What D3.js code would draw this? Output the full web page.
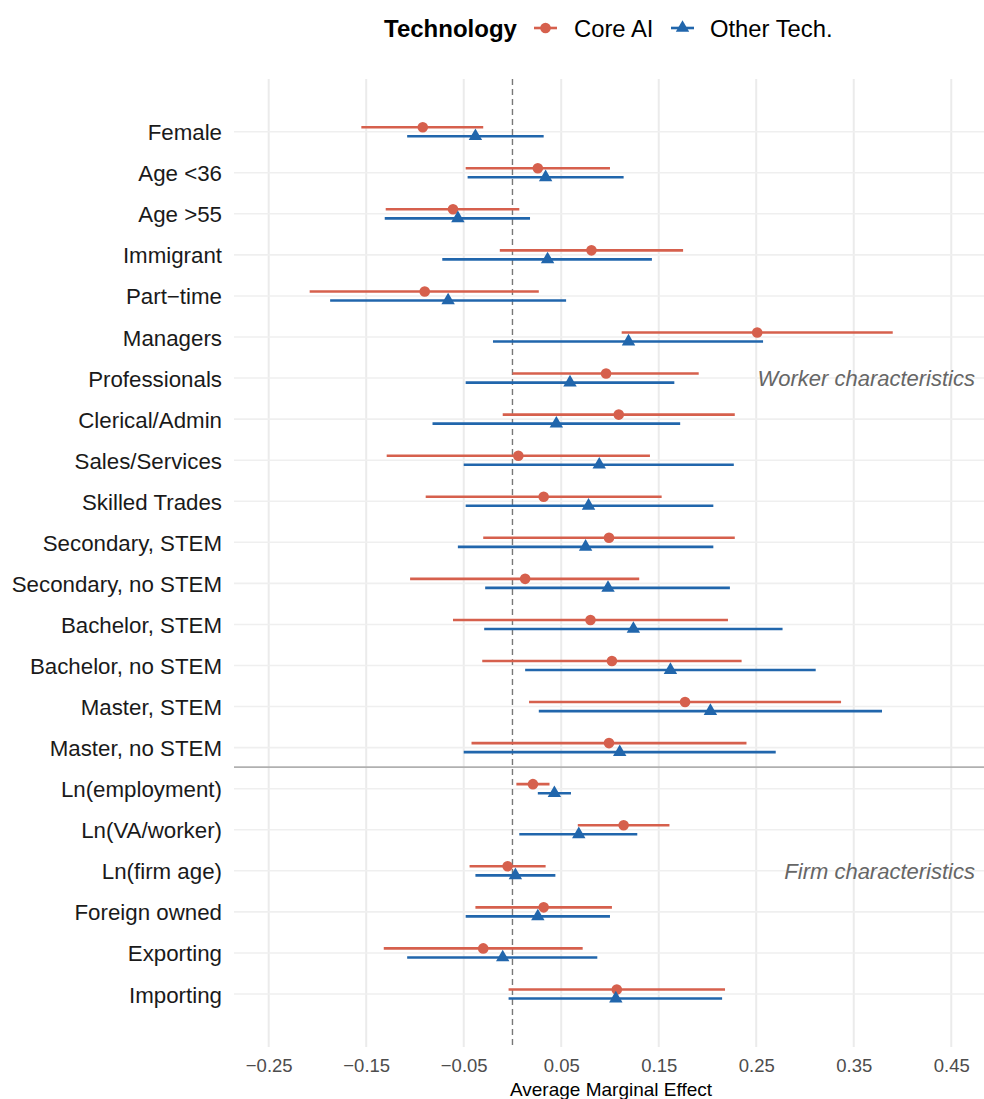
<!DOCTYPE html>
<html>
<head>
<meta charset="utf-8">
<script src="https://cdn.jsdelivr.net/npm/d3@7"></script>
<style>
  html, body { margin: 0; padding: 0; background: #ffffff; }
  svg { display: block; font-family: "Liberation Sans", Arial, Helvetica, sans-serif; }
</style>
</head>
<body>
<svg id="chart" width="984" height="1099"></svg>
<script>
// ---------------- data ----------------
const categories = [
  "Female", "Age <36", "Age >55", "Immigrant", "Part\u2212time", "Managers",
  "Professionals", "Clerical/Admin", "Sales/Services", "Skilled Trades",
  "Secondary, STEM", "Secondary, no STEM", "Bachelor, STEM", "Bachelor, no STEM",
  "Master, STEM", "Master, no STEM",
  "Ln(employment)", "Ln(VA/worker)", "Ln(firm age)", "Foreign owned", "Exporting", "Importing"
];
const seriesNames = ["Core AI", "Other Tech."];

const coreEst = [-0.092, 0.026, -0.061, 0.081, -0.090, 0.251, 0.096, 0.109, 0.006, 0.032,
                 0.099, 0.013, 0.080, 0.102, 0.177, 0.099,
                 0.021, 0.114, -0.005, 0.032, -0.030, 0.107];
const coreLo  = [-0.155, -0.048, -0.130, -0.013, -0.208, 0.112, 0.000, -0.010, -0.129, -0.089,
                 -0.030, -0.105, -0.061, -0.031, 0.017, -0.042,
                 0.004, 0.067, -0.044, -0.038, -0.132, -0.004];
const coreHi  = [-0.030, 0.100, 0.007, 0.175, 0.027, 0.390, 0.191, 0.228, 0.141, 0.153,
                 0.228, 0.130, 0.221, 0.235, 0.337, 0.240,
                 0.038, 0.161, 0.034, 0.102, 0.072, 0.218];

const otherEst = [-0.038, 0.034, -0.056, 0.036, -0.066, 0.119, 0.059, 0.045, 0.089, 0.078,
                  0.075, 0.098, 0.124, 0.162, 0.203, 0.110,
                  0.043, 0.068, 0.003, 0.026, -0.010, 0.106];
const otherLo  = [-0.108, -0.046, -0.131, -0.072, -0.187, -0.020, -0.048, -0.082, -0.050, -0.048,
                  -0.056, -0.028, -0.029, 0.013, 0.027, -0.050,
                  0.026, 0.007, -0.038, -0.048, -0.108, -0.004];
const otherHi  = [0.032, 0.114, 0.018, 0.143, 0.055, 0.257, 0.166, 0.172, 0.227, 0.206,
                  0.206, 0.223, 0.277, 0.311, 0.379, 0.270,
                  0.060, 0.128, 0.044, 0.100, 0.087, 0.215];

const xTicks = [-0.25, -0.15, -0.05, 0.05, 0.15, 0.25, 0.35, 0.45];
const groupLabels = [
  { text: "Worker characteristics", row: "Professionals" },
  { text: "Firm characteristics", row: "Ln(firm age)" }
];
const groupBreakAfter = "Master, no STEM";

// ---------------- layout ----------------
const colors = { "Core AI": "#D6604D", "Other Tech.": "#2166AC" };
const panel = { left: 234, right: 984, top: 79, bottom: 1047 };

const svg = d3.select("#chart");

const x = d3.scaleLinear().domain([-0.2856, 0.4836]).range([panel.left, panel.right]);
const y = d3.scalePoint().domain(categories).range([131.7, 994]);
const dodge = y.step() * 0.11;

// gridlines
const grid = svg.append("g");
grid.selectAll("line.v").data(xTicks).join("line")
  .attr("x1", d => x(d)).attr("x2", d => x(d))
  .attr("y1", panel.top).attr("y2", panel.bottom)
  .attr("stroke", "#EBEBEB").attr("stroke-width", 2);
grid.selectAll("line.h").data(categories).join("line")
  .attr("x1", panel.left).attr("x2", panel.right)
  .attr("y1", d => y(d)).attr("y2", d => y(d))
  .attr("stroke", "#EFEFEF").attr("stroke-width", 1.6);

// separator between worker & firm characteristics
const sepY = y(groupBreakAfter) + y.step() / 2 - 1;
svg.append("line")
  .attr("x1", panel.left).attr("x2", panel.right)
  .attr("y1", sepY).attr("y2", sepY)
  .attr("stroke", "#B0B0B0").attr("stroke-width", 1.6);

// zero line
svg.append("line")
  .attr("x1", x(0)).attr("x2", x(0))
  .attr("y1", panel.top).attr("y2", panel.bottom)
  .attr("stroke", "#777777").attr("stroke-width", 1.4)
  .attr("stroke-dasharray", "6,4");

// group annotations
svg.selectAll("text.grp").data(groupLabels).join("text")
  .attr("x", 975).attr("y", d => y(d.row))
  .attr("dy", "0.36em")
  .attr("text-anchor", "end")
  .attr("font-style", "italic")
  .attr("font-size", 22)
  .attr("fill", "#666666")
  .text(d => d.text);

// build rows
const series = [
  { name: "Core AI", est: coreEst, lo: coreLo, hi: coreHi, off: -dodge },
  { name: "Other Tech.", est: otherEst, lo: otherLo, hi: otherHi, off: dodge }
];

series.forEach(s => {
  const g = svg.append("g");
  const rows = categories.map((c, i) => ({ c, est: s.est[i], lo: s.lo[i], hi: s.hi[i] }));
  g.selectAll("line").data(rows).join("line")
    .attr("x1", d => x(d.lo)).attr("x2", d => x(d.hi))
    .attr("y1", d => y(d.c) + s.off).attr("y2", d => y(d.c) + s.off)
    .attr("stroke", colors[s.name]).attr("stroke-width", 2.6);
  if (s.name === "Core AI") {
    g.selectAll("circle").data(rows).join("circle")
      .attr("cx", d => x(d.est)).attr("cy", d => y(d.c) + s.off)
      .attr("r", 5.3).attr("fill", colors[s.name]);
  } else {
    g.selectAll("path").data(rows).join("path")
      .attr("d", d3.symbol().type(d3.symbolTriangle).size(78))
      .attr("transform", d => `translate(${x(d.est)},${y(d.c) + s.off})`)
      .attr("fill", colors[s.name]);
  }
});

// y axis labels
svg.append("g")
  .attr("transform", `translate(${panel.left - 12},0)`)
  .call(d3.axisLeft(y).tickSize(0).tickPadding(0))
  .call(g => g.select(".domain").remove())
  .call(g => g.selectAll("text")
    .attr("font-size", 22.3)
    .attr("fill", "#1A1A1A")
    .attr("font-family", "'Liberation Sans', Arial, sans-serif")
    .attr("dy", "0.36em"));

// x axis
svg.append("g")
  .attr("transform", `translate(0,${panel.bottom})`)
  .call(d3.axisBottom(x).tickValues(xTicks).tickSize(0).tickPadding(0).tickFormat(d3.format(".2f")))
  .call(g => g.select(".domain").remove())
  .call(g => g.selectAll("text")
    .attr("font-size", 18.5)
    .attr("fill", "#4D4D4D")
    .attr("font-family", "'Liberation Sans', Arial, sans-serif")
    .attr("dy", null)
    .attr("y", 24.7));

svg.append("text")
  .attr("x", (panel.left + panel.right) / 2 + 2)
  .attr("y", 1096)
  .attr("text-anchor", "middle")
  .attr("font-size", 19)
  .attr("fill", "#000000")
  .text("Average Marginal Effect");

// legend
const legend = svg.append("g");
legend.append("text")
  .attr("x", 384).attr("y", 36.5)
  .attr("font-size", 24).attr("font-weight", "bold").attr("fill", "#000")
  .text("Technology");
const legendItems = [
  { name: seriesNames[0], x0: 534, tx: 574 },
  { name: seriesNames[1], x0: 671, tx: 710 }
];
legendItems.forEach(it => {
  legend.append("line")
    .attr("x1", it.x0).attr("x2", it.x0 + 23)
    .attr("y1", 28).attr("y2", 28)
    .attr("stroke", colors[it.name]).attr("stroke-width", 2.6);
  if (it.name === "Core AI") {
    legend.append("circle").attr("cx", it.x0 + 11.5).attr("cy", 28).attr("r", 5.3)
      .attr("fill", colors[it.name]);
  } else {
    legend.append("path")
      .attr("d", d3.symbol().type(d3.symbolTriangle).size(78))
      .attr("transform", `translate(${it.x0 + 11.5},28)`)
      .attr("fill", colors[it.name]);
  }
  legend.append("text")
    .attr("x", it.tx).attr("y", 36.5)
    .attr("font-size", 23.8).attr("fill", "#000")
    .text(it.name);
});
</script>
</body>
</html>
